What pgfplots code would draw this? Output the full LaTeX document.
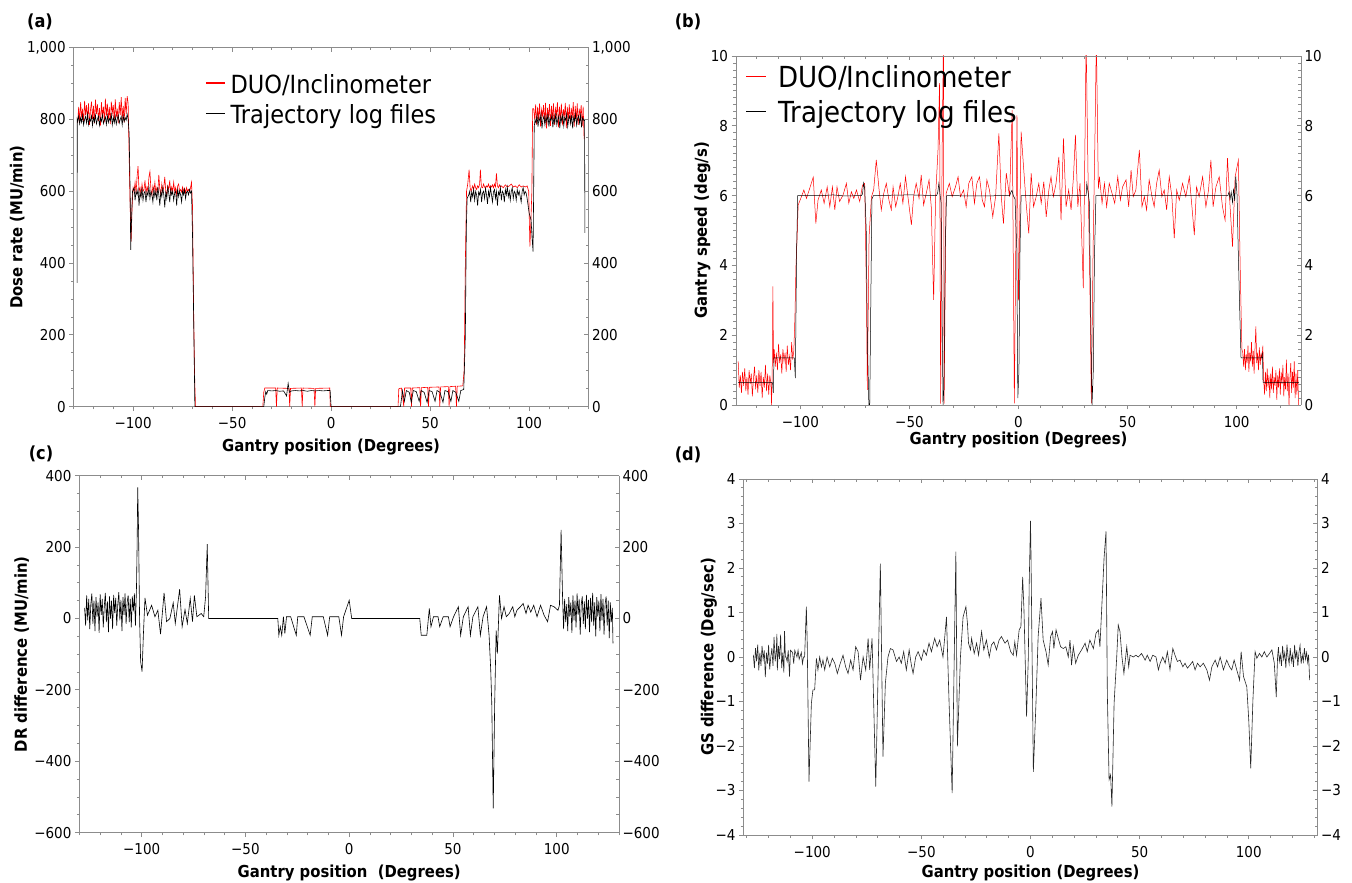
\documentclass[border=0pt]{standalone}
\usepackage{pgfplots}
\pgfplotsset{compat=1.18}
\usepackage{fontspec}
\setmainfont{DejaVu Sans}[FakeStretch=0.9]

\definecolor{frame}{gray}{0.55}
\definecolor{duored}{rgb}{1,0,0}

\pgfplotsset{
  base/.style={
    scale only axis, anchor=south west,
    xmin=-130, xmax=130,
    axis line style={draw=frame, line width=0.9pt},
    tick style={frame, line width=0.8pt},
    major tick length=4.5pt, minor tick length=2.6pt,
    xtick={-100,-50,0,50,100},
    minor xtick={-130,-120,...,130},
    tick label style={font=\fontsize{15}{18}\selectfont},
    xticklabel shift=3pt,
    label style={font=\fontsize{16.5}{20}\selectfont\bfseries},
  },
  front/.style={base, axis x line*=bottom, axis y line*=left, tick align=outside,
    xticklabels={−100,−50,0,50,100}},
  back/.style={base, axis x line*=top, axis y line*=right, tick align=inside,
    xticklabels={}},
  duo/.style={draw=duored, line width=0.6pt},
  tlog/.style={draw=black, line width=0.6pt},
}

\begin{document}
\begin{tikzpicture}

%% (a) dose rate
\begin{axis}[front, at={(73.7pt,476.3pt)}, width=514.8pt, height=359pt,
  ymin=0, ymax=1000, ytick={0,200,...,1000}, yticklabels={0,200,400,600,800,{1,000}},
  minor y tick num=3,
  xlabel={Gantry position (Degrees)}, ylabel={Dose rate (MU/min)},
  xlabel style={at={([yshift=-40pt]axis description cs:0.5,0)}, anchor=center},
  ylabel style={at={([xshift=-56.4pt]axis description cs:0,0.5)}, anchor=center},
  legend style={at={(axis description cs:0.2555,0.923)}, anchor=north west,
    draw=none, fill=none, inner sep=0pt, row sep=7pt, column sep=3pt,
    font=\fontsize{25}{30}\selectfont,
    nodes={inner xsep=2pt, inner ysep=0pt, text height=18pt, text depth=5pt}},
  legend cell align=left,
  legend image code/.code={\draw[#1] (0pt,4pt) -- (19pt,4pt);},
]
\addlegendimage{draw=duored, line width=1.1pt}
\addlegendentry{DUO/Inclinometer}
\addlegendimage{draw=black, line width=0.9pt}
\addlegendentry{Trajectory log files}
\addplot[duo, forget plot] coordinates {
(-128,790) (-127.5,835) (-127,795) (-126.5,848) (-126,805) (-125.5,830) (-125,788) (-124.5,852)
(-124,812) (-123.5,840) (-123,798) (-122.5,845) (-122,785) (-121.5,828) (-121,850) (-120.5,802)
(-120,838) (-119.5,790) (-119,855) (-118.5,815) (-118,842) (-117.5,796) (-117,832) (-116.5,783)
(-116,848) (-115.5,808) (-115,836) (-114.5,792) (-114,858) (-113.5,810) (-113,844) (-112.5,800)
(-112,835) (-111.5,787) (-111,850) (-110.5,818) (-110,840) (-109.5,795) (-109,856) (-108.5,806)
(-108,830) (-107.5,790) (-107,848) (-106.5,812) (-106,862) (-105.5,800) (-105,838) (-104.5,792)
(-104,860) (-103.5,815) (-103,865) (-102.5,845) (-102,700) (-101.5,560) (-101,460) (-100.5,560)
(-100,610) (-99.5,600) (-99,625) (-98.5,595) (-98,640) (-97.5,670) (-97,600) (-96.5,610)
(-96,590) (-95.5,620) (-95,600) (-94.5,605) (-94,630) (-93.5,595) (-93,612) (-92.5,600)
(-92,640) (-91.5,655) (-91,605) (-90.5,590) (-90,615) (-89.5,600) (-89,625) (-88.5,595)
(-88,610) (-87.5,600) (-87,646) (-86.5,605) (-86,590) (-85.5,620) (-85,600) (-84.5,612)
(-84,640) (-83.5,600) (-83,590) (-82.5,615) (-82,605) (-81.5,630) (-81,595) (-80.5,612)
(-80,600) (-79.5,625) (-79,598) (-78.5,610) (-78,590) (-77.5,615) (-77,620) (-76.5,600)
(-76,605) (-75.5,598) (-75,612) (-74.5,600) (-74,608) (-73.5,595) (-73,610) (-72.5,600)
(-72,605) (-71.5,598) (-71,610) (-70.5,625) (-70,560) (-69.5,300) (-69,100) (-68.5,0)
(-34.5,0) (-34,40) (-33.5,52) (-28,52) (-27.6,0) (-27.2,52) (-21.3,51) (-20.9,0) (-20.5,51)
(-15,52) (-14.6,0) (-14.2,52) (-8.6,51) (-8.2,0) (-7.8,51) (-0.7,52) (-0.4,0)
(33.8,0) (34.2,50) (35.5,52) (36.3,20) (36.7,0) (37.1,52) (40.2,52) (40.6,0) (41,52)
(44.8,53) (45.2,0) (45.6,53) (48.8,54) (49.2,0) (49.6,54) (54.5,55) (54.9,0) (55.3,55)
(59.2,56) (59.6,0) (60,56) (62.9,57) (63.3,0) (63.7,57) (66.5,58) (67.2,100) (67.8,400)
(68.4,600) (69,620) (69.7,660) (70.2,610) (70.7,600) (71.5,615) (72,605) (72.5,620) (73,610)
(73.5,605) (74,615) (74.5,610) (75,620) (75.4,660) (75.9,612) (76.5,610) (77,620) (77.5,612)
(78,608) (78.5,615) (79,612) (79.5,620) (80,610) (80.5,615) (81,612) (81.5,618) (82,610)
(82.5,620) (83,612) (83.5,650) (84,615) (84.5,610) (85,618) (85.5,612) (86,615) (87,610)
(88,618) (89,612) (90,615) (91,620) (92,612) (93,615) (94,610) (95,618) (96,612) (97,615)
(98,612) (99,615) (99.8,600) (100.4,446) (100.8,500) (101.4,600) (101.8,830)
(102.3,830) (102.8,800) (103.3,842) (103.8,785) (104.3,835) (104.8,798) (105.3,845) (105.8,780)
(106.3,828) (106.8,810) (107.3,840) (107.8,790) (108.3,846) (108.8,775) (109.3,832) (109.8,805)
(110.3,843) (110.8,782) (111.3,838) (111.8,800) (112.3,845) (112.8,786) (113.3,830) (113.8,812)
(114.3,848) (114.8,778) (115.3,836) (115.8,802) (116.3,844) (116.8,784) (117.3,829) (117.8,808)
(118.3,846) (118.8,776) (119.3,835) (119.8,798) (120.3,842) (120.8,788) (121.3,832) (121.8,804)
(122.3,848) (122.8,780) (123.3,838) (123.8,796) (124.3,845) (124.8,785) (125.3,830) (125.8,810)
(126.3,840) (126.8,782) (127.3,836) (127.8,745)
};
\addplot[tlog, forget plot] coordinates {
(-128.3,345) (-128.2,800)
(-128,795) (-127.5,810) (-127,788) (-126.5,805) (-126,792) (-125.5,812) (-125,785) (-124.5,800)
(-124,808) (-123.5,790) (-123,815) (-122.5,786) (-122,802) (-121.5,796) (-121,810) (-120.5,783)
(-120,806) (-119.5,793) (-119,812) (-118.5,788) (-118,801) (-117.5,809) (-117,784) (-116.5,804)
(-116,795) (-115.5,813) (-115,789) (-114.5,799) (-114,807) (-113.5,786) (-113,811) (-112.5,792)
(-112,803) (-111.5,797) (-111,814) (-110.5,785) (-110,806) (-109.5,791) (-109,809) (-108.5,787)
(-108,802) (-107.5,812) (-107,790) (-106.5,800) (-106,808) (-105.5,785) (-105,811) (-104.5,794)
(-104,805) (-103.5,798) (-103,815) (-102.5,800) (-102,760) (-101.5,600) (-101.2,437) (-100.8,520)
(-100.3,600) (-99.5,610) (-99,575) (-98.5,600) (-98,590) (-97.5,605) (-97,560) (-96.5,598)
(-96,582) (-95.5,610) (-95,575) (-94.5,595) (-94,600) (-93.5,570) (-93,598) (-92.5,588)
(-92,612) (-91.5,580) (-91,600) (-90.5,590) (-90,570) (-89.5,605) (-89,585) (-88.5,600)
(-88,575) (-87.5,612) (-87,590) (-86.5,560) (-86,600) (-85.5,585) (-85,610) (-84.5,590)
(-84,555) (-83.5,600) (-83,580) (-82.5,612) (-82,595) (-81.5,570) (-81,605) (-80.5,590)
(-80,600) (-79.5,575) (-79,595) (-78.5,600) (-78,560) (-77.5,608) (-77,585) (-76.5,600)
(-76,590) (-75.5,570) (-75,602) (-74.5,590) (-74,605) (-73.5,580) (-73,598) (-72.5,600)
(-72,590) (-71.5,605) (-71,595) (-70.5,600) (-70,480) (-69.3,200) (-68.8,0)
(-34,0) (-33.5,25) (-33,42) (-32.5,35) (-32,45) (-30,44) (-28,45) (-26,43) (-24,44) (-22.5,30)
(-21.7,65) (-21,40) (-20,44) (-18,45) (-16,44) (-14,45) (-12,43) (-10,45) (-8,44) (-6,45)
(-4,44) (-2,45) (-0.5,45) (0,0)
(35,0) (35.5,20) (36,45) (37,15) (38,45) (39.5,40) (40.5,12) (41.5,45) (43,42) (44.5,15)
(45.5,45) (47,40) (48.5,12) (49.5,45) (51,42) (52.5,15) (53.5,45) (55,40) (56.5,12) (57.5,45)
(59,42) (60.5,15) (61.5,45) (63,40) (64.5,15) (65.5,45) (67,48) (67.8,200) (68.3,500) (68.7,580)
(69.5,590) (70,600) (70.5,570) (71,598) (71.5,585) (72,605) (72.5,575) (73,600) (73.5,590)
(74,560) (74.5,598) (75,590) (75.5,605) (76,570) (76.5,595) (77,600) (77.5,580) (78,608)
(78.5,590) (79,565) (79.5,600) (80,585) (80.5,610) (81,590) (81.5,570) (82,598) (82.5,605)
(83,580) (83.5,600) (84,560) (84.5,598) (85,590) (85.5,610) (86,575) (86.5,600) (87,595)
(87.5,570) (88,605) (88.5,590) (89,612) (89.5,585) (90,600) (90.5,575) (91,600) (91.5,610)
(92,580) (92.5,600) (93,595) (93.5,575) (94,605) (94.5,590) (95,600) (95.5,585) (96,570)
(96.5,600) (97,610) (97.5,590) (98,600) (98.5,595) (99,580) (99.5,560) (100,540) (101,520)
(101.5,470) (102,432) (102.3,600) (102.6,780) (103,800)
(103.5,790) (104,812) (104.5,780) (105,805) (105.5,795) (106,815) (106.5,775) (107,800)
(107.5,810) (108,785) (108.5,808) (109,792) (109.5,816) (110,780) (110.5,803) (111,797)
(111.5,812) (112,778) (112.5,806) (113,790) (113.5,818) (114,785) (114.5,800) (115,810)
(115.5,776) (116,808) (116.5,795) (117,814) (117.5,782) (118,805) (118.5,798) (119,816)
(119.5,780) (120,802) (120.5,810) (121,788) (121.5,812) (122,775) (122.5,806) (123,796)
(123.5,815) (124,784) (124.5,803) (125,810) (125.5,790) (126,812) (126.5,778) (127,805)
(127.5,798) (128,800) (128.2,484)
};
\end{axis}
\begin{axis}[back, at={(73.7pt,476.3pt)}, width=514.8pt, height=359pt,
  ymin=0, ymax=1000, ytick={0,200,...,1000}, yticklabels={0,200,400,600,800,{1,000}},
  minor y tick num=3]
\end{axis}

%% (b) gantry speed
\begin{axis}[front, at={(736pt,478pt)}, width=565pt, height=349pt,
  xmin=-129.5, xmax=129.5,
  ymin=0, ymax=10, ytick={0,2,...,10}, yticklabels={0,2,4,6,8,10},
  minor y tick num=9,
  xlabel={Gantry position (Degrees)}, ylabel={Gantry speed (deg/s)},
  xlabel style={at={([yshift=-35pt]axis description cs:0.5,0)}, anchor=center},
  ylabel style={at={([xshift=-33.6pt]axis description cs:0,0.5)}, anchor=center},
  legend style={at={(axis description cs:0.0175,0.9705)}, anchor=north west,
    draw=none, fill=none, inner sep=0pt, row sep=8pt, column sep=10pt,
    font=\fontsize{29}{34}\selectfont,
    nodes={inner xsep=2pt, inner ysep=0pt, text height=21pt, text depth=6pt}},
  legend cell align=left,
  legend image code/.code={\draw[#1] (0pt,4pt) -- (19.5pt,4pt);},
]
\addlegendimage{draw=duored, line width=0.8pt}
\addlegendentry{DUO/Inclinometer}
\addlegendimage{draw=black, line width=0.8pt}
\addlegendentry{Trajectory log files}
\addplot[duo, line width=0.5pt, forget plot] coordinates {
(-128.5,1.25) (-128,0.5) (-127.5,0.85) (-127,0.35) (-126.5,0.95) (-126,0.55) (-125.5,1.05) (-125,0.4)
(-124.5,0.8) (-124,0.3) (-123.5,1.0) (-123,0.6) (-122.5,0.9) (-122,0.25) (-121.5,0.75) (-121,1.1)
(-120.5,0.45) (-120,0.85) (-119.5,0.35) (-119,1.0) (-118.5,0.55) (-118,0.95) (-117.5,0.2) (-117,0.8)
(-116.5,0.5) (-116,1.15) (-115.5,0.4) (-115,0.9) (-114.5,0.3) (-114,0.85) (-113.5,0.6) (-113.2,0.0)
(-112.9,1.0) (-112.6,3.4) (-112.3,1.2) (-112,1.6) (-111.5,1.1) (-111,1.5) (-110.5,1.0) (-110,1.75)
(-109.5,1.2) (-109,1.45) (-108.5,0.9) (-108,1.6) (-107.5,1.25) (-107,1.5) (-106.5,0.95) (-106,1.7)
(-105.5,1.15) (-105,1.4) (-104.5,1.0) (-104,1.8) (-103.5,1.3) (-103,1.55) (-102.5,2.5) (-102,4.0)
(-101.5,4.8) (-101,5.73) (-99.5,5.97) (-98.4,6.16) (-97.2,5.92) (-95.7,6.21) (-94.1,6.53) (-92.9,5.20)
(-91.9,5.87) (-90.4,6.16) (-89.1,5.78) (-87.7,6.25) (-86.5,5.68) (-85.3,6.25) (-84.2,5.59) (-83.2,6.25)
(-82.0,5.83) (-80.4,6.02) (-78.9,6.35) (-77.8,5.78) (-76.6,6.11) (-75.5,5.92) (-74.3,6.16) (-72.8,5.83)
(-71.5,6.30) (-70.5,6.35) (-69.7,3.11) (-69.3,0.43) (-68.5,4.82) (-67.4,5.97) (-66.4,6.16) (-65.2,7.02)
(-63.9,6.16) (-62.9,5.59) (-61.8,6.06) (-60.6,6.35) (-59.4,5.87) (-58.3,5.59) (-57.5,6.25) (-56.3,5.68)
(-55.3,5.97) (-54.2,6.35) (-53.0,5.78) (-51.8,6.54) (-50.7,5.97) (-49.1,5.16) (-48.1,5.97) (-46.9,6.35)
(-45.6,5.92) (-44.6,6.59) (-43.5,5.73) (-42.3,6.06) (-41.0,6.45) (-40.0,5.68) (-38.9,3.01) (-38.0,5.97)
(-36.9,7.31) (-36.2,9.22) (-35.7,0.04) (-35.0,7.31) (-34.4,10.5) (-34.1,0.04) (-33.2,6.06) (-31.7,6.35)
(-30.4,5.97) (-28.9,6.25) (-27.7,6.54) (-26.6,5.97) (-25.2,6.16) (-24.0,5.68) (-22.8,6.35) (-21.4,6.54)
(-20.2,5.78) (-19.1,6.35) (-17.9,6.54) (-16.6,5.87) (-15.6,5.68) (-14.5,6.45) (-13.3,6.16) (-11.8,5.39)
(-10.5,5.97) (-9.0,7.78) (-7.9,5.97) (-6.9,5.20) (-5.6,6.64) (-4.1,5.97) (-2.9,8.45) (-1.9,0.05)
(-0.7,8.3) (0,3.0) (0.5,5.0) (1.2,7.83) (2.3,6.83) (3.5,5.78) (4.7,4.92) (5.8,6.64) (6.9,5.68)
(8.1,5.97) (9.3,6.35) (10.4,5.78) (11.6,6.40) (12.7,5.39) (13.9,6.16) (14.9,6.54) (16.0,5.97)
(17.2,6.35) (18.5,7.11) (19.5,5.30) (20.6,7.64) (21.8,5.68) (23.0,6.16) (24.1,5.59) (25.2,6.54)
(26.1,7.74) (27.2,5.68) (28.2,6.35) (29.7,3.35) (31.0,10.5) (32.0,6.0) (32.6,4.0) (33.4,0.05)
(34.2,4.5) (35.0,7.5) (35.7,10.5) (36.6,6.2) (37.1,6.54) (38.3,5.78) (39.4,6.35) (40.4,5.68)
(41.6,6.35) (42.9,6.06) (44.1,5.78) (45.5,6.54) (46.7,5.87) (47.7,6.25) (49.3,6.45) (50.5,5.68)
(51.6,6.73) (52.6,5.97) (53.8,6.16) (55.4,7.31) (56.6,5.68) (57.7,5.97) (58.7,5.59) (59.9,6.45)
(61.2,5.97) (62.2,5.68) (63.3,6.35) (64.5,6.73) (65.7,5.97) (66.8,6.16) (67.9,5.59) (69.1,6.54)
(70.3,5.97) (71.4,4.78) (72.5,6.16) (73.7,5.87) (75.2,6.35) (76.7,5.97) (78.3,6.54) (79.5,5.68)
(80.6,4.87) (81.6,6.25) (82.8,5.97) (84.4,6.54) (85.9,5.68) (87.1,6.16) (88.2,7.02) (89.2,5.68)
(90.5,6.25) (92.0,6.54) (93.5,5.68) (94.7,5.30) (95.8,7.07) (96.9,5.78) (98.1,4.54) (99.3,6.54)
(100.8,7.02) (101.6,4.0) (102.4,1.6) (102.8,1.5) (103.2,1.1) (103.6,1.6) (104,1.0) (104.4,1.45)
(104.8,1.2) (105.2,1.7) (105.6,0.95) (106,1.5) (106.4,1.25) (106.8,1.8) (107.2,1.1) (107.6,1.55)
(108,0.9) (108.4,1.6) (108.8,2.25) (109.2,1.2) (109.6,1.5) (110,1.0) (110.4,1.65) (110.8,1.15)
(111.2,1.5) (111.6,1.3) (112,1.7) (112.4,0.7) (112.8,0.3) (113.2,0.95) (113.6,0.4) (114,1.05)
(114.4,0.5) (114.8,0.85) (115.2,0.2) (115.6,0.9) (116,0.45) (116.4,1.1) (116.8,0.35) (117.2,0.8)
(117.6,0.55) (118,1.0) (118.4,0.15) (118.8,0.85) (119.2,0.5) (119.6,1.05) (120,0.3) (120.4,0.95)
(120.8,0.6) (121.2,1.15) (121.6,0.25) (122,0.8) (122.4,0.45) (122.8,1.3) (123.2,0.4) (123.6,0.9)
(124,0.0) (124.4,0.75) (124.8,1.2) (125.2,0.35) (125.6,0.95) (126,0.5) (126.4,1.25) (126.8,0.2)
(127.2,0.9) (127.6,0.3) (128,1.0) (128.4,0.0)
};
\addplot[tlog, line width=0.5pt, forget plot] coordinates {
(-128.5,0.65) (-113,0.65) (-112.7,0.62) (-112.4,0.35) (-112.1,1.35) (-102.8,1.35) (-102.3,0.77)
(-101.7,4.5) (-101.2,6.0) (-90,6.0) (-85,6.02) (-80,5.99) (-72,6.0) (-71.5,6.05) (-71,6.36)
(-70.5,6.2) (-69.8,5.0) (-69.3,2) (-68.6,0) (-68.2,0) (-67.7,3) (-67.2,5.9) (-66.5,6.0)
(-50,6.02) (-37.5,6.0) (-37,6.1) (-36.5,6.35) (-36,6.05) (-35.5,5.8) (-35,2.5) (-34.6,0)
(-34.2,0.5) (-33.6,4.5) (-33,6.0) (-20,5.99) (-4,6.0) (-3.5,6.1) (-3,6.15) (-2.4,6.0) (-1.6,5.9)
(-0.8,4.5) (-0.3,0.2) (0.2,1.0) (0.7,4.5) (1.2,6.0) (15,6.01) (31,6.0) (31.3,6.35) (31.9,6.1)
(32.5,5.8) (33,3) (33.7,0) (34.3,1.0) (34.8,4.2) (35.5,6.0) (60,6.01) (96,6.0) (96.5,6.1)
(97,5.9) (97.5,6.1) (98.1,5.8) (98.6,6.2) (99.1,5.85) (99.6,6.55) (100.2,6.0) (100.7,4.5)
(101.5,2.5) (102,1.35) (111.5,1.35) (111.8,1.5) (112.1,0.65) (128.5,0.65)
};
\end{axis}
\begin{axis}[back, at={(736pt,478pt)}, width=565pt, height=349pt,
  xmin=-129.5, xmax=129.5,
  ymin=0, ymax=10, ytick={0,2,...,10}, yticklabels={0,2,4,6,8,10},
  minor y tick num=9]
\end{axis}

%% (c) dose rate difference
\begin{axis}[front, at={(79.4pt,50.3pt)}, width=539.6pt, height=357pt,
  ymin=-600, ymax=400, ytick={-600,-400,...,400}, yticklabels={−600,−400,−200,0,200,400},
  minor y tick num=3,
  xlabel={Gantry position\ \ (Degrees)}, ylabel={DR difference (MU/min)},
  xlabel style={at={([yshift=-40pt]axis description cs:0.5,0)}, anchor=center},
  ylabel style={at={([xshift=-57.7pt]axis description cs:0,0.5)}, anchor=center},
]
\addplot[tlog] coordinates {
(-127.5,30) (-127,-20) (-126.5,65) (-126,-5) (-125.5,55) (-125,-30) (-124.5,40) (-124,70)
(-123.5,-15) (-123,50) (-122.5,-35) (-122,60) (-121.5,5) (-121,45) (-120.5,-40) (-120,68)
(-119.5,10) (-119,55) (-118.5,-25) (-118,35) (-117.5,72) (-117,-10) (-116.5,48) (-116,-38)
(-115.5,62) (-115,0) (-114.5,50) (-114,-30) (-113.5,66) (-113,15) (-112.5,58) (-112,-20)
(-111.5,40) (-111,74) (-110.5,-5) (-110,52) (-109.5,-35) (-109,60) (-108.5,10) (-108,70)
(-107.5,-15) (-107,45) (-106.5,65) (-106,-10) (-105.5,55) (-105,-25) (-104.5,62) (-104,20)
(-103.5,70) (-103,-20) (-102.5,85) (-102.2,200) (-101.9,367) (-101.5,250) (-101,0) (-100.5,-120)
(-99.8,-149) (-99.2,-50) (-98.4,58) (-97.2,9) (-95.2,37) (-93.6,5) (-92.2,23) (-90.9,-44)
(-89.2,72) (-88,-9) (-86.4,0) (-84.8,44) (-83.8,-14) (-81.7,82) (-80.5,-23) (-79.1,25)
(-78,-14) (-76.6,56) (-75.5,-9) (-74.6,65) (-73.4,5) (-71.3,14) (-70.1,5) (-69.2,61)
(-68.4,208) (-67.7,0) (-34.4,0) (-33.9,-47) (-33.2,-23) (-32.5,-47) (-31.7,5) (-31,-42)
(-30.2,5) (-28.2,5) (-25.5,-47) (-24.8,5) (-21.8,5) (-18.8,-47) (-17.8,5) (-15.1,5) (-12.5,5)
(-10.4,-47) (-9.4,5) (-5,5) (-3.7,-47) (-2.7,5) (0,51) (1.2,0) (34,0) (34.7,-47) (37.4,-47)
(38.6,28) (39.4,-23) (40.6,5) (42.8,5) (43.6,-23) (45.3,5) (47.8,5) (48.6,-23) (50.3,5)
(52.6,33) (53.7,-47) (55,5) (57.3,33) (58.4,-47) (59.6,5) (62,33) (63.2,-47) (64.5,5)
(66.2,33) (67.4,-47) (68.2,-145) (68.7,-238) (69.4,-532) (70.1,-238) (70.8,-33) (71.4,-98)
(72.4,65) (73.4,0) (74.6,33) (75.7,5) (77.1,14) (78.8,33) (79.8,5) (80.8,23) (82.5,33)
(83.8,42) (85.2,14) (86.2,37) (87.5,18) (88.9,37) (90.5,5) (92.2,37) (93.9,9) (95.6,-9)
(97,37) (98.7,33) (100.6,23) (101.3,37) (102.1,248) (102.8,61) (103.3,-30) (103.8,55)
(104.3,-10) (104.8,40) (105.3,-35) (105.8,60) (106.3,5) (106.8,45) (107.3,-40) (107.8,65)
(108.3,-5) (108.8,50) (109.3,-25) (109.8,70) (110.3,10) (110.8,55) (111.3,-45) (111.8,40)
(112.3,62) (112.8,-15) (113.3,48) (113.8,-30) (114.3,66) (114.8,0) (115.3,52) (115.8,-38)
(116.3,58) (116.8,-10) (117.3,72) (117.8,-20) (118.3,45) (118.8,-50) (119.3,60) (119.8,5)
(120.3,50) (120.8,-35) (121.3,68) (121.8,-5) (122.3,55) (122.8,-45) (123.3,40) (123.8,62)
(124.3,-20) (124.8,50) (125.3,-55) (125.8,45) (126.3,-10) (126.8,30) (127.1,-70)
};
\end{axis}
\begin{axis}[back, at={(79.4pt,50.3pt)}, width=539.6pt, height=357pt,
  ymin=-600, ymax=400, ytick={-600,-400,...,400}, yticklabels={−600,−400,−200,0,200,400},
  minor y tick num=3]
\end{axis}

%% (d) gantry speed difference
\begin{axis}[front, at={(743.5pt,48pt)}, width=574pt, height=356pt,
  xmin=-131.5, xmax=131.5,
  ymin=-4, ymax=4, ytick={-4,-3,...,4}, yticklabels={−4,−3,−2,−1,0,1,2,3,4},
  minor y tick num=4,
  xlabel={Gantry position (Degrees)}, ylabel={GS difference (Deg/sec)},
  xlabel style={at={([yshift=-38.3pt]axis description cs:0.5,0)}, anchor=center},
  ylabel style={at={([xshift=-34.6pt]axis description cs:0,0.5)}, anchor=center},
]
\addplot[draw=black!85, line width=0.6pt] coordinates {
(-127,0.05) (-126.5,-0.25) (-126,0.2) (-125.5,-0.1) (-125,0.28) (-124.5,-0.3) (-124,0.1) (-123.5,-0.2)
(-123,0.25) (-122.5,-0.05) (-122,0.15) (-121.5,-0.45) (-121,0.1) (-120.5,-0.15) (-120,0.27) (-119.5,-0.28)
(-119,0.0) (-118.5,0.2) (-118,-0.2) (-117.5,0.45) (-117,-0.1) (-116.5,0.12) (-116.2,0.52) (-116,-0.3)
(-115.5,0.25) (-115,-0.05) (-114.5,0.5) (-114,-0.25) (-113.5,0.1) (-113,-0.35) (-112.7,0.58) (-112.3,0.0)
(-112,0.0) (-111.5,-0.1) (-111,0.15) (-110.4,-0.44) (-110,0.15) (-109,0.1) (-108.5,-0.15) (-108,0.15)
(-107,0.0) (-106.5,0.15) (-106,-0.05) (-105,0.1) (-104.5,-0.15) (-104,0.0) (-103.5,0.0) (-102.7,1.13)
(-102.3,0.31) (-101.5,-2.8) (-100.4,-1.04) (-99.7,-0.74) (-98.9,-0.74) (-98.1,-0.03) (-97.4,-0.29)
(-96.6,0.0) (-95.8,-0.22) (-95.1,-0.07) (-94.3,-0.29) (-93.2,0.0) (-92.0,-0.22) (-90.8,-0.03)
(-89.7,-0.14) (-88.5,-0.37) (-87.4,-0.18) (-85.9,0.04) (-84.7,-0.22) (-83.6,-0.37) (-82.4,-0.07)
(-81.3,-0.29) (-80.1,0.23) (-79.0,0.12) (-77.9,-0.52) (-76.7,0.0) (-75.5,-0.29) (-74.4,0.42)
(-73.7,-0.29) (-72.6,0.42) (-70.9,-2.91) (-68.8,2.1) (-67.6,-2.24) (-66.5,-0.59) (-65.3,0.0)
(-64.2,0.19) (-63.0,0.16) (-61.4,-0.1) (-60.2,0.0) (-59.2,-0.14) (-58.1,0.12) (-56.9,-0.29)
(-55.6,0.16) (-54.6,-0.18) (-53.8,-0.37) (-52.6,0.0) (-51.5,0.12) (-50.0,-0.07) (-48.9,0.16)
(-47.7,0.04) (-46.5,0.31) (-45.4,0.12) (-43.9,0.42) (-42.8,0.23) (-41.6,0.38) (-40.1,0.0)
(-38.5,0.9) (-37.3,-1.04) (-35.9,-3.06) (-34.2,2.37) (-33.5,-2.01) (-32.1,0.0) (-30.9,0.9)
(-29.6,1.13) (-28.9,0.76) (-28.4,0.31) (-27.5,0.16) (-27.0,0.42) (-25.8,0.08) (-24.7,0.31)
(-23.8,0.04) (-22.4,0.57) (-21.4,0.16) (-20.2,0.38) (-18.9,0.0) (-17.9,0.27) (-16.8,0.34)
(-15.6,0.16) (-14.4,0.38) (-13.3,0.46) (-11.7,0.31) (-10.5,0.38) (-9.1,0.12) (-7.9,0.04)
(-7.2,0.34) (-6.4,0.04) (-5.2,0.61) (-4.4,0.68) (-3.6,1.8) (-3.0,1.06) (-1.8,-1.34) (-1.0,0.0)
(-0.6,1.65) (0.0,3.06) (0.2,2.4) (1.3,-2.58) (2.5,-1.04) (3.5,0.46) (4.8,1.32) (5.8,0.38)
(7.1,0.12) (8.1,-0.18) (9.2,0.46) (10.1,0.57) (10.7,0.19) (11.7,0.61) (12.7,0.42) (13.8,0.23)
(15.0,0.19) (16.2,0.23) (17.3,0.0) (18.1,0.38) (18.8,-0.18) (19.6,0.23) (20.7,-0.14) (21.9,0.04)
(23.4,0.16) (25.0,0.31) (26.0,0.12) (27.2,0.38) (28.8,0.19) (30.0,0.53) (31.1,0.61) (31.8,0.23)
(32.6,1.06) (33.7,2.22) (34.6,2.82) (35.2,-0.82) (36.0,-2.76) (36.7,-2.65) (37.3,-3.36) (38.3,-1.04)
(39.5,0.0) (40.2,0.72) (41.0,0.57) (41.9,0.0) (42.8,-0.37) (44.1,0.23) (45.0,-0.22) (45.6,0.04)
(47.1,0.0) (48.3,0.04) (49.4,0.0) (50.9,0.08) (52.5,-0.07) (53.5,0.04) (54.8,-0.1) (56.0,0.04)
(57.5,0.0) (58.6,-0.29) (59.4,-0.14) (60.6,0.0) (61.7,-0.14) (62.7,0.12) (63.9,-0.29) (65.2,0.19)
(66.2,0.04) (67.3,-0.1) (68.5,-0.07) (69.8,-0.22) (70.8,-0.14) (71.9,-0.25) (73.1,-0.18) (74.3,-0.1)
(75.4,-0.29) (76.5,-0.14) (77.7,-0.22) (79.2,-0.14) (80.8,-0.29) (82.0,-0.52) (83.1,-0.22) (84.6,-0.07)
(85.7,-0.22) (86.9,0.0) (88.4,-0.29) (89.9,-0.07) (91.2,-0.22) (92.2,-0.29) (93.3,-0.07) (94.5,-0.29)
(95.8,-0.52) (96.5,0.12) (97.6,-0.44) (99.1,-0.67) (100.0,-1.42) (100.9,-2.5) (101.9,-0.97)
(102.9,0.12) (103.7,-0.03) (104.9,0.08) (106.0,0.0) (107.1,0.12) (108.3,0.0) (109.5,0.08)
(110.6,0.16) (111.7,-0.14) (112.6,-0.9) (113.2,0.0) (113.6,0.22) (114,-0.1) (114.5,0.05)
(115,-0.2) (115.5,0.25) (116,-0.05) (116.5,0.1) (117,-0.25) (117.5,0.28) (118,0.0) (118.5,-0.15)
(119,0.2) (119.5,-0.1) (120,0.05) (120.5,-0.22) (121,0.27) (121.5,-0.05) (122,0.15) (122.5,-0.2)
(123,0.1) (123.5,0.26) (124,-0.15) (124.5,0.05) (125,-0.1) (125.5,0.2) (126,-0.05) (126.5,0.1)
(127,-0.12) (127.4,0.05) (127.9,-0.52)
};
\end{axis}
\begin{axis}[back, at={(743.5pt,48pt)}, width=574pt, height=356pt,
  xmin=-131.5, xmax=131.5,
  ymin=-4, ymax=4, ytick={-4,-3,...,4}, yticklabels={−4,−3,−2,−1,0,1,2,3,4},
  minor y tick num=4]
\end{axis}

\node[font=\fontsize{18}{20}\selectfont\bfseries] at (40pt,861.3pt) {(a)};
\node[font=\fontsize{18}{20}\selectfont\bfseries] at (688pt,861.5pt) {(b)};
\node[font=\fontsize{18}{20}\selectfont\bfseries] at (41pt,429.5pt) {(c)};
\node[font=\fontsize{18}{20}\selectfont\bfseries] at (688pt,428pt) {(d)};

\pgfresetboundingbox
\path (0pt,0pt) rectangle (1352pt,883pt);
\end{tikzpicture}
\end{document}
